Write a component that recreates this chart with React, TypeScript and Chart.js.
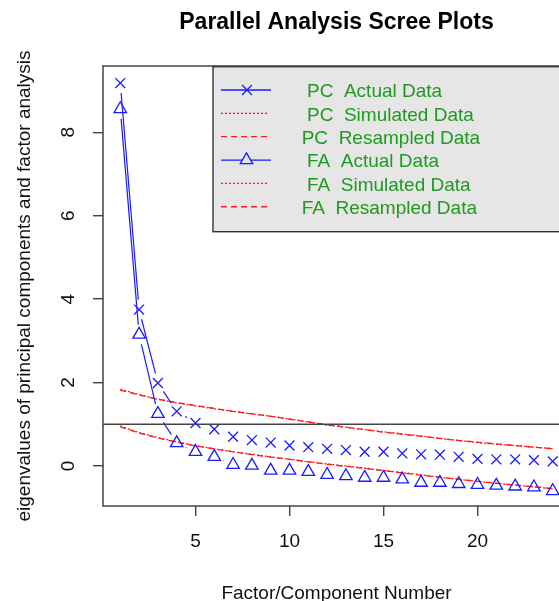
import React, { useEffect, useRef } from 'react';
import { Chart, registerables } from 'chart.js';

Chart.register(...registerables);

// ---------- data ----------
const factors = [1, 2, 3, 4, 5, 6, 7, 8, 9, 10, 11, 12, 13, 14, 15, 16, 17, 18, 19, 20, 21, 22, 23, 24];
const pcActual = [9.18, 3.75, 1.99, 1.31, 1.03, 0.88, 0.70, 0.62, 0.56, 0.49, 0.45, 0.41, 0.38, 0.34, 0.34, 0.30, 0.28, 0.27, 0.22, 0.17, 0.16, 0.16, 0.14, 0.11];
const pcSimulated = [1.84, 1.71, 1.60, 1.51, 1.44, 1.37, 1.31, 1.25, 1.19, 1.13, 1.05, 0.98, 0.93, 0.87, 0.82, 0.77, 0.72, 0.66, 0.61, 0.56, 0.52, 0.49, 0.45, 0.42];
const pcResampled = [1.82, 1.70, 1.60, 1.52, 1.45, 1.38, 1.31, 1.25, 1.19, 1.12, 1.06, 0.99, 0.93, 0.87, 0.81, 0.76, 0.71, 0.66, 0.61, 0.57, 0.53, 0.49, 0.45, 0.41];
const faActual = [8.56, 3.15, 1.25, 0.55, 0.34, 0.22, 0.03, 0.01, -0.11, -0.11, -0.14, -0.21, -0.24, -0.28, -0.28, -0.32, -0.40, -0.40, -0.43, -0.45, -0.47, -0.49, -0.51, -0.60];
const faSimulated = [0.96, 0.80, 0.68, 0.58, 0.49, 0.41, 0.34, 0.28, 0.22, 0.16, 0.10, 0.05, 0.00, -0.05, -0.11, -0.16, -0.21, -0.27, -0.32, -0.37, -0.42, -0.46, -0.50, -0.55];
const faResampled = [0.94, 0.79, 0.67, 0.57, 0.48, 0.41, 0.34, 0.27, 0.21, 0.16, 0.10, 0.04, -0.01, -0.06, -0.11, -0.17, -0.22, -0.27, -0.32, -0.37, -0.41, -0.46, -0.50, -0.54];

const xTicks = [5, 10, 15, 20];
const yTicks = [0, 2, 4, 6, 8];
const referenceLine = 1;

const seriesLabels = [' PC  Actual Data', ' PC  Simulated Data', 'PC  Resampled Data', ' FA  Actual Data', ' FA  Simulated Data', 'FA  Resampled Data'];
const chartTitle = 'Parallel Analysis Scree Plots';
const xTitle = 'Factor/Component Number';
const yTitle = 'eigenvalues of principal components and factor analysis';

// ---------- style ----------
const FONT = '"Liberation Sans", Arial, Helvetica, sans-serif';
const BLUE = '#1a1aff';
const RED = '#ff1a1a';
const GREEN = '#1f9a1f';
const AXIS = '#444444';
const DOT = [2, 2];
const DASH = [6, 4];
const GAP = 10;

const toXY = (arr: number[]) => factors.map((x, i) => ({ x, y: arr[i] }));

const rPlot = {
  id: 'rPlot',
  afterDatasetsDraw(chart: any) {
    const { ctx, chartArea: a, scales } = chart;
    ctx.save();
    ctx.beginPath();
    ctx.rect(a.left, a.top, a.right - a.left, a.bottom - a.top);
    ctx.clip();
    // type = "b" connecting segments with gaps around points
    chart.data.datasets.forEach((ds: any, i: number) => {
      if (!ds.gapLine) return;
      const pts = chart.getDatasetMeta(i).data;
      ctx.strokeStyle = ds.borderColor;
      ctx.lineWidth = 1.2;
      ctx.setLineDash([]);
      for (let k = 0; k < pts.length - 1; k++) {
        const p0 = pts[k], p1 = pts[k + 1];
        const dx = p1.x - p0.x, dy = p1.y - p0.y;
        const len = Math.hypot(dx, dy);
        if (len <= 2 * GAP) continue;
        const ux = dx / len, uy = dy / len;
        ctx.beginPath();
        ctx.moveTo(p0.x + ux * GAP, p0.y + uy * GAP);
        ctx.lineTo(p1.x - ux * GAP, p1.y - uy * GAP);
        ctx.stroke();
      }
    });
    // reference line at eigenvalue 1
    const yr = scales.y.getPixelForValue(referenceLine);
    ctx.strokeStyle = AXIS;
    ctx.lineWidth = 1.5;
    ctx.beginPath();
    ctx.moveTo(a.left, yr);
    ctx.lineTo(a.right, yr);
    ctx.stroke();
    ctx.restore();
  },
  afterDraw(chart: any) {
    const { ctx, chartArea: a, scales } = chart;
    ctx.save();
    // plot box
    ctx.strokeStyle = AXIS;
    ctx.lineWidth = 1.5;
    ctx.setLineDash([]);
    ctx.strokeRect(a.left, a.top, a.right - a.left, a.bottom - a.top);

    // legend
    const lx = 213, ly = a.top + 0.7, lb = 231.7;
    ctx.fillStyle = '#e6e6e6';
    ctx.fillRect(lx, ly, a.right - lx, lb - ly);
    ctx.strokeStyle = '#333333';
    ctx.lineWidth = 1.4;
    ctx.strokeRect(lx, ly, a.right - lx, lb - ly);
    chart.data.datasets.forEach((ds: any, i: number) => {
      const ry = 90 + i * 23.35;
      ctx.save();
      ctx.strokeStyle = ds.borderColor;
      ctx.lineWidth = 1.3;
      ctx.setLineDash(ds.borderDash || []);
      ctx.beginPath();
      ctx.moveTo(221, ry);
      ctx.lineTo(ds.gapLine ? 271 : 268, ry);
      ctx.stroke();
      ctx.setLineDash([]);
      if (ds.pointStyle === 'crossRot') {
        const r = 7 * Math.SQRT1_2;
        ctx.lineWidth = 1.3;
        ctx.beginPath();
        ctx.moveTo(247 - r, ry - r); ctx.lineTo(247 + r, ry + r);
        ctx.moveTo(247 - r, ry + r); ctx.lineTo(247 + r, ry - r);
        ctx.stroke();
      } else if (ds.pointStyle === 'triangle') {
        const r = 7.2;
        ctx.lineWidth = 1.3;
        ctx.fillStyle = '#e6e6e6';
        ctx.beginPath();
        ctx.moveTo(246.5, ry - r);
        ctx.lineTo(246.5 + r * 0.866, ry + r / 2);
        ctx.lineTo(246.5 - r * 0.866, ry + r / 2);
        ctx.closePath();
        ctx.fill();
        ctx.stroke();
      }
      ctx.restore();
      ctx.fillStyle = GREEN;
      ctx.font = `19px ${FONT}`;
      ctx.textAlign = 'left';
      ctx.textBaseline = 'middle';
      ctx.fillText(ds.label, 301.7, ry + 2);
    });

    // title
    const cx = (a.left + a.right) / 2;
    ctx.fillStyle = '#000';
    ctx.font = `bold 23px ${FONT}`;
    ctx.textAlign = 'center';
    ctx.textBaseline = 'alphabetic';
    ctx.fillText(chartTitle, cx, 29);

    // x tick labels
    ctx.fillStyle = '#111';
    ctx.font = `19px ${FONT}`;
    ctx.textBaseline = 'middle';
    scales.x.ticks.forEach((t: any) => {
      ctx.fillText(String(t.value), scales.x.getPixelForValue(t.value), 542);
    });
    // y tick labels (rotated, R style)
    scales.y.ticks.forEach((t: any) => {
      ctx.save();
      ctx.translate(68.5, scales.y.getPixelForValue(t.value));
      ctx.rotate(-Math.PI / 2);
      ctx.fillText(String(t.value), 0, 0);
      ctx.restore();
    });
    // axis titles
    ctx.textBaseline = 'alphabetic';
    ctx.fillText(xTitle, cx, 599);
    ctx.save();
    ctx.translate(29.5, (a.top + a.bottom) / 2);
    ctx.rotate(-Math.PI / 2);
    ctx.fillText(yTitle, 0, 0);
    ctx.restore();
    ctx.restore();
  },
};

export default function App() {
  const ref = useRef<HTMLCanvasElement>(null);
  useEffect(() => {
    if (!ref.current) return;
    const redLine = (label: string, arr: number[], dash: number[]) => ({
      label,
      data: toXY(arr),
      borderColor: RED,
      borderWidth: 1.3,
      borderDash: dash,
      pointRadius: 0,
      tension: 0,
      fill: false,
    });
    const chart = new Chart(ref.current, {
      type: 'line',
      data: {
        datasets: [
          {
            label: seriesLabels[0],
            data: toXY(pcActual),
            showLine: false,
            pointStyle: 'crossRot',
            pointRadius: 7,
            pointBorderWidth: 1.3,
            pointBorderColor: BLUE,
            pointBackgroundColor: 'rgba(0,0,0,0)',
            borderColor: BLUE,
            gapLine: true,
          } as any,
          redLine(seriesLabels[1], pcSimulated, DOT),
          redLine(seriesLabels[2], pcResampled, DASH),
          {
            label: seriesLabels[3],
            data: toXY(faActual),
            showLine: false,
            pointStyle: 'triangle',
            pointRadius: 7.2,
            pointBorderWidth: 1.3,
            pointBorderColor: BLUE,
            pointBackgroundColor: 'rgba(0,0,0,0)',
            borderColor: BLUE,
            gapLine: true,
          } as any,
          redLine(seriesLabels[4], faSimulated, DOT),
          redLine(seriesLabels[5], faResampled, DASH),
        ],
      },
      options: {
        animation: false,
        responsive: false,
        devicePixelRatio: 1,
        events: [],
        layout: { padding: { top: 66, left: 0, right: 1, bottom: 0 }, autoPadding: false },
        plugins: { legend: { display: false }, tooltip: { enabled: false }, title: { display: false } },
        scales: {
          x: {
            type: 'linear',
            min: 0.08,
            max: 24.92,
            afterBuildTicks: (s: any) => { s.ticks = xTicks.map((v) => ({ value: v })); },
            afterFit: (s: any) => { s.height = 95; },
            ticks: { display: false },
            grid: { drawOnChartArea: false, drawTicks: true, tickLength: 10, color: AXIS, lineWidth: 1.4 },
            border: { display: false },
          },
          y: {
            type: 'linear',
            min: -0.96,
            max: 9.59,
            afterBuildTicks: (s: any) => { s.ticks = yTicks.map((v) => ({ value: v })); },
            afterFit: (s: any) => { s.width = 103; },
            ticks: { display: false },
            grid: { drawOnChartArea: false, drawTicks: true, tickLength: 10, color: AXIS, lineWidth: 1.4 },
            border: { display: false },
          },
        },
      } as any,
      plugins: [rPlot],
    });
    return () => chart.destroy();
  }, []);
  return (
    <div style={{ position: 'fixed', left: 0, top: 0, width: 559, height: 601, overflow: 'hidden', background: '#fff' }}>
      <canvas ref={ref} width={571} height={601} style={{ display: 'block', width: 571, height: 601 }} />
    </div>
  );
}
